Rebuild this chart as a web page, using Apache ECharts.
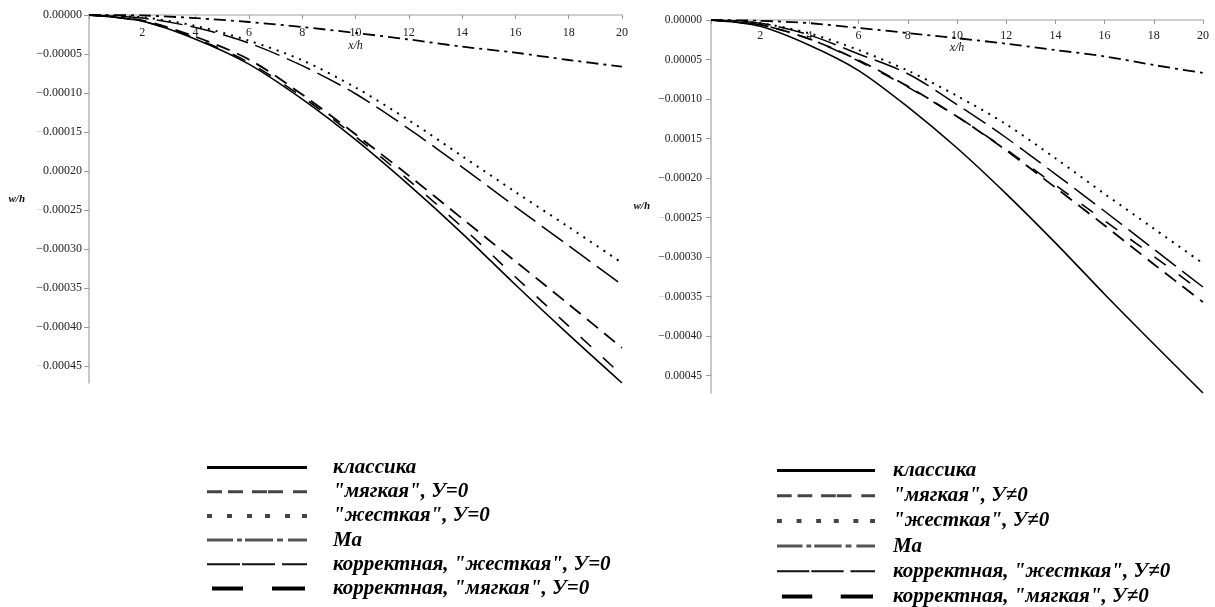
<!DOCTYPE html>
<html><head><meta charset="utf-8">
<script src="https://cdn.jsdelivr.net/npm/echarts@6/dist/echarts.min.js"></script>
<style>html,body{margin:0;padding:0;background:#fff}#c{width:1215px;height:607px}</style>
</head><body><div id="c"></div>
<script>
// ---- data ----
const xVals = [0, 2, 4, 6, 8, 10, 12, 14, 16, 18, 20];
const yTickValues = [0, -0.00005, -0.00010, -0.00015, -0.00020, -0.00025, -0.00030, -0.00035, -0.00040, -0.00045];
const leftYLabels = ['0.00000', '−0.00005', '−0.00010', '−0.00015', '0.00020', '−0.00025', '−0.00030', '−0.00035', '−0.00040', '−0.00045'];
const leftYFaintMinus = [3, 5, 9];
const rightYLabels = ['0.00000', '0.00005', '−0.00010', '0.00015', '−0.00020', '−0.00025', '−0.00030', '−0.00035', '−0.00040', '0.00045'];
const rightYFaintMinus = [5, 7];

const namesLeft = ['классика', '"мягкая", У=0', '"жесткая", У=0', 'Ма', 'корректная, "жесткая", У=0', 'корректная, "мягкая", У=0'];
const namesRight = ['классика', '"мягкая", У≠0', '"жесткая", У≠0', 'Ма', 'корректная, "жесткая", У≠0', 'корректная, "мягкая", У≠0'];

// left chart (У=0)
const classicL  = [0, -0.000008, -0.000031, -0.000063, -0.000108, -0.000160, -0.000218, -0.000280, -0.000346, -0.000410, -0.000472];
const softL     = [0, -0.000008, -0.000030, -0.000061, -0.000105, -0.000156, -0.000212, -0.000272, -0.000336, -0.000399, -0.000462];
const hardL     = [0, -0.000003, -0.000014, -0.000033, -0.000058, -0.000093, -0.000135, -0.000181, -0.000227, -0.000272, -0.000318];
const maL       = [0, -0.0000006, -0.000004, -0.000009, -0.0000154, -0.000023, -0.0000314, -0.0000406, -0.0000483, -0.0000577, -0.0000663];
const corrHardL = [0, -0.000004, -0.000016, -0.000036, -0.000065, -0.000101, -0.000146, -0.000195, -0.000246, -0.000296, -0.000346];
const corrSoftL = [0, -0.000007, -0.000028, -0.000057, -0.000102, -0.000153, -0.000206, -0.000261, -0.000316, -0.000371, -0.000427];

// right chart (У≠0)
const classicR  = [0, -0.000008, -0.000032, -0.000064, -0.000110, -0.000162, -0.000220, -0.000282, -0.000347, -0.000410, -0.000472];
const softR     = [0, -0.000006, -0.000024, -0.000052, -0.000085, -0.000122, -0.000164, -0.000209, -0.000254, -0.000299, -0.000345];
const hardR     = [0, -0.000004, -0.000017, -0.000038, -0.000064, -0.000096, -0.000132, -0.000175, -0.000220, -0.000264, -0.000308];
const maR       = [0, -0.000001, -0.000004, -0.000010, -0.0000165, -0.000023, -0.000030, -0.000038, -0.000046, -0.000057, -0.000067];
const corrHardR = [0, -0.000004, -0.000019, -0.000043, -0.000068, -0.000107, -0.000149, -0.000195, -0.000242, -0.000290, -0.000338];
const corrSoftR = [0, -0.000006, -0.000024, -0.000051, -0.000084, -0.000122, -0.000165, -0.000212, -0.000260, -0.000309, -0.000357];

// ---- styles ----
const FONT = 'Liberation Serif';
const lineStyles = [
  {type: 'solid', width: 1.6},          // классика
  {type: [14, 16], width: 1.6},         // мягкая
  {type: [2, 6], width: 2},             // жесткая
  {type: [12, 5, 3, 5], width: 1.8},    // Ма
  {type: [26, 8], width: 1.5},          // корр. жесткая
  {type: [14, 8], width: 1.8}           // корр. мягкая
];
function iconPath(list, y0, y1) {
  let d = 'M0,0h0.01v0.01h-0.01z M99.99,9.99h0.01v0.01h-0.01z ';
  list.forEach(([a, b]) => { d += 'M' + a + ',' + y0 + 'H' + b + 'V' + y1 + 'H' + a + 'Z '; });
  return 'path://' + d;
}
const legendIcons = [
  {icon: iconPath([[0, 100]], 3.5, 6.5), color: '#000'},
  {icon: iconPath([[0, 15], [21, 36], [45, 60], [61, 76], [86, 100]], 3.5, 6.5), color: '#444'},
  {icon: iconPath([[0, 5], [20, 25], [40, 45], [58, 63], [78, 83], [95, 100]], 3, 7), color: '#444'},
  {icon: iconPath([[0, 26], [30, 35], [38, 66], [70, 76], [81, 100]], 3.5, 6.5), color: '#555'},
  {icon: iconPath([[0, 33], [35, 68], [75, 100]], 4, 6), color: '#111'},
  {icon: iconPath([[5, 36], [65, 98]], 3, 7), color: '#000'}
];

function pts(ys) { return xVals.map((x, i) => [x, ys[i]]); }
function yFormatter(labels, faint) {
  return function (v) {
    const i = Math.round(-v / 0.00005);
    const s = labels[i];
    if (s === undefined) return '';
    if (faint.indexOf(i) >= 0) return '{f|' + s.charAt(0) + '}{n|' + s.slice(1) + '}';
    return '{n|' + s + '}';
  };
}

const leftData = [classicL, softL, hardL, maL, corrHardL, corrSoftL];
const rightData = [classicR, softR, hardR, maR, corrHardR, corrSoftR];

function makeAxes(idx, cfg) {
  const x = {
    type: 'value', gridIndex: idx, min: 0, max: 20, interval: 2, position: 'top',
    axisLine: {onZero: false, lineStyle: {color: '#cfcfcf', width: 2}},
    axisTick: {inside: true, length: 4, lineStyle: {color: '#999'}},
    axisLabel: {inside: true, margin: cfg.xLabelMargin, color: '#222', fontFamily: FONT, fontSize: cfg.xFont,
      formatter: v => v === 0 ? '' : String(v)},
    splitLine: {show: false},
    name: 'x/h', nameLocation: 'middle', nameGap: cfg.xNameGap, nameMoveOverlap: false,
    nameTextStyle: {fontFamily: FONT, fontStyle: 'italic', fontSize: 12, color: '#111'}
  };
  const y = {
    type: 'value', gridIndex: idx, min: -0.000472, max: 0,
    axisLine: {show: true, onZero: false, lineStyle: {color: '#b5b5b5', width: 1.5}},
    axisTick: {show: true, length: 5, customValues: yTickValues, lineStyle: {color: '#999'}},
    axisLabel: {customValues: yTickValues, margin: cfg.yLabelMargin, formatter: yFormatter(cfg.labels, cfg.faint),
      rich: {
        n: {fontFamily: FONT, fontSize: cfg.yFont, color: '#222'},
        f: {fontFamily: FONT, fontSize: cfg.yFont, color: '#c4c4c4'}
      }},
    splitLine: {show: false},
    name: 'w/h', nameLocation: 'middle', nameRotate: 0, nameGap: cfg.yNameGap, nameMoveOverlap: false,
    nameTextStyle: {fontFamily: FONT, fontStyle: 'italic', fontWeight: 'bold', fontSize: 11, color: '#111', padding: [16, 0, 0, 0]}
  };
  return [x, y];
}

const [xL, yL] = makeAxes(0, {labels: leftYLabels, faint: leftYFaintMinus, xLabelMargin: 12, xNameGap: -37, yLabelMargin: 7, yNameGap: 64, xFont: 12, yFont: 12});
const [xR, yR] = makeAxes(1, {labels: rightYLabels, faint: rightYFaintMinus, xLabelMargin: 10, xNameGap: -34, yLabelMargin: 9, yNameGap: 61, xFont: 12, yFont: 11.5});

const series = [];
leftData.forEach((d, i) => series.push({
  type: 'line', name: namesLeft[i], xAxisIndex: 0, yAxisIndex: 0, data: pts(d),
  smooth: 0.3, symbol: 'none', silent: true, z: i === 0 ? 5 : 3,
  lineStyle: Object.assign({color: '#000', cap: 'butt'}, lineStyles[i])
}));
rightData.forEach((d, i) => series.push({
  type: 'line', name: namesRight[i], xAxisIndex: 1, yAxisIndex: 1, data: pts(d),
  smooth: 0.3, symbol: 'none', silent: true, z: i === 0 ? 5 : 3,
  lineStyle: Object.assign({color: '#000', cap: 'butt'}, lineStyles[i])
}));

function legendData(names) {
  return names.map((n, i) => ({name: n, icon: legendIcons[i].icon,
    itemStyle: {color: legendIcons[i].color, borderWidth: 0, borderColor: 'transparent'}}));
}
const legendText = {fontFamily: FONT, fontStyle: 'italic', fontWeight: 'bold', fontSize: 21, color: '#000'};

const chart = echarts.init(document.getElementById('c'), null, {renderer: 'canvas'});
chart.setOption({
  animation: false,
  backgroundColor: '#fff',
  grid: [
    {left: 89, top: 15, width: 533, height: 368, containLabel: false},
    {left: 711, top: 20, width: 492, height: 373, containLabel: false}
  ],
  xAxis: [xL, xR],
  yAxis: [yL, yR],
  legend: [
    {orient: 'vertical', left: 207, top: 457, padding: 0, itemWidth: 100, itemHeight: 10, itemGap: 3.2,
      symbolKeepAspect: false, selectedMode: false, data: legendData(namesLeft),
      itemStyle: {borderWidth: 0},
      textStyle: Object.assign({padding: [0, 0, 0, 21]}, legendText)},
    {orient: 'vertical', left: 777, top: 460, padding: 0, itemWidth: 98, itemHeight: 10, itemGap: 4.2,
      symbolKeepAspect: false, selectedMode: false, data: legendData(namesRight),
      itemStyle: {borderWidth: 0},
      textStyle: Object.assign({padding: [0, 0, 0, 13]}, legendText)}
  ],
  series: series
});
</script></body></html>
